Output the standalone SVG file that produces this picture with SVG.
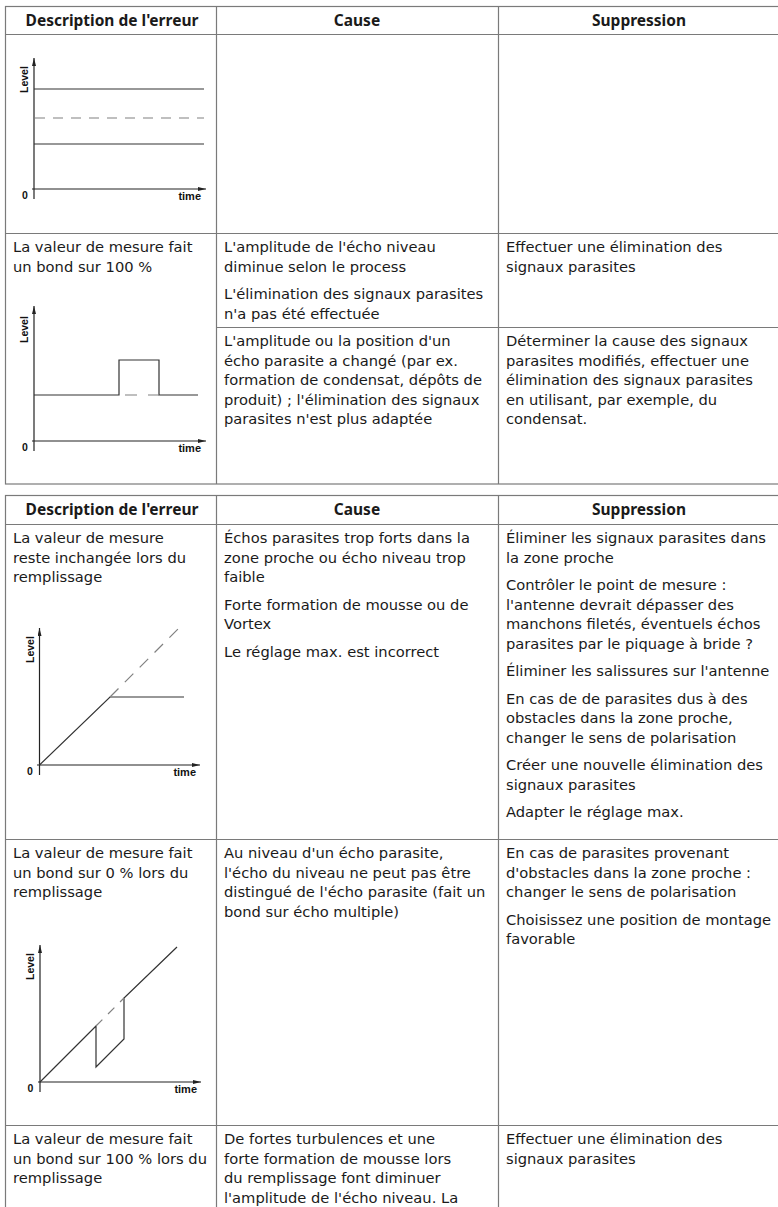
<svg xmlns="http://www.w3.org/2000/svg" width="778" height="1207" viewBox="0 0 778 1207">
<defs>
<style>
.bg{fill:#ffffff}
.grid{stroke:#7a7a7a;stroke-width:1.2;fill:none}
.t{font-family:"DejaVu Sans","Noto Sans",sans-serif;font-size:14.7px;fill:#1a1a1a}
.h{font-family:"Noto Sans","Open Sans","DejaVu Sans",sans-serif;font-size:15.5px;font-weight:bold;fill:#1a1a1a;text-anchor:middle}
.ax{stroke:#222;stroke-width:1.2;fill:none}
.sl{stroke:#333;stroke-width:1.2;fill:none}
.ds{stroke:#808080;stroke-width:1.2;fill:none}
.lab{font-family:"Liberation Sans",Arial,sans-serif;font-weight:bold;font-size:10.5px;fill:#111}
.tm{font-size:11px;text-anchor:end}
</style>
<marker id="ah" viewBox="0 0 8 4" refX="8" refY="2" markerWidth="8" markerHeight="4" orient="auto" markerUnits="userSpaceOnUse">
<path d="M0,0 L8,2 L0,4 z" fill="#222"/>
</marker>
</defs>
<rect class="bg" x="0" y="0" width="778" height="1207"/>

<!-- ===== Table 1 ===== -->
<g id="table1-grid" class="grid">
<rect x="5.5" y="6.5" width="790" height="477.5"/>
<line x1="5.5" y1="34.5" x2="778" y2="34.5"/>
<line x1="5.5" y1="233.5" x2="778" y2="233.5"/>
<line x1="216.5" y1="327.5" x2="778" y2="327.5"/>
<line x1="216.5" y1="6.5" x2="216.5" y2="484"/>
<line x1="498.5" y1="6.5" x2="498.5" y2="484"/>
</g>
<g id="table1-header">
<text class="h" x="112" y="26">Description de l'erreur</text>
<text class="h" x="357" y="26">Cause</text>
<text class="h" x="639" y="26">Suppression</text>
</g>

<g id="chart1">
<line class="ax" x1="34" y1="199" x2="34" y2="58" marker-end="url(#ah)"/>
<line class="ax" x1="32" y1="189" x2="206" y2="189" marker-end="url(#ah)"/>
<line class="sl" x1="34" y1="89" x2="204" y2="89"/>
<line class="ds" x1="35" y1="118" x2="204" y2="118" stroke-dasharray="10 8"/>
<line class="sl" x1="34" y1="144" x2="204" y2="144"/>
<text class="lab" transform="translate(28,93) rotate(-90)">Level</text>
<text class="lab" x="22" y="199">0</text>
<text class="lab tm" x="201" y="200">time</text>
</g>

<g id="t1-row2-desc">
<text class="t" x="13" y="252"><tspan x="13">La valeur de mesure fait</tspan><tspan x="13" dy="19.5">un bond sur 100 %</tspan></text>
</g>
<g id="chart2">
<line class="ax" x1="34" y1="451" x2="34" y2="306" marker-end="url(#ah)"/>
<line class="ax" x1="32" y1="441" x2="206" y2="441" marker-end="url(#ah)"/>
<polyline class="sl" points="34,395 119,395 119,360 159,360 159,395 198,395"/>
<line class="ds" x1="125" y1="395" x2="159" y2="395" stroke-dasharray="12 11"/>
<text class="lab" transform="translate(28,343) rotate(-90)">Level</text>
<text class="lab" x="22" y="451">0</text>
<text class="lab tm" x="201" y="452">time</text>
</g>
<g id="t1-row2-cause">
<text class="t" x="224" y="252"><tspan x="224">L'amplitude de l'écho niveau</tspan><tspan x="224" dy="19.5">diminue selon le process</tspan></text>
<text class="t" x="224" y="299"><tspan x="224">L'élimination des signaux parasites</tspan><tspan x="224" dy="19.5">n'a pas été effectuée</tspan></text>
</g>
<g id="t1-row2-supp">
<text class="t" x="506" y="252"><tspan x="506">Effectuer une élimination des</tspan><tspan x="506" dy="19.5">signaux parasites</tspan></text>
</g>
<g id="t1-row3-cause">
<text class="t" x="224" y="346"><tspan x="224">L'amplitude ou la position d'un</tspan><tspan x="224" dy="19.5">écho parasite a changé (par ex.</tspan><tspan x="224" dy="19.5">formation de condensat, dépôts de</tspan><tspan x="224" dy="19.5">produit) ; l'élimination des signaux</tspan><tspan x="224" dy="19.5">parasites n'est plus adaptée</tspan></text>
</g>
<g id="t1-row3-supp">
<text class="t" x="506" y="346"><tspan x="506">Déterminer la cause des signaux</tspan><tspan x="506" dy="19.5">parasites modifiés, effectuer une</tspan><tspan x="506" dy="19.5">élimination des signaux parasites</tspan><tspan x="506" dy="19.5">en utilisant, par exemple, du</tspan><tspan x="506" dy="19.5">condensat.</tspan></text>
</g>

<!-- ===== Table 2 ===== -->
<g id="table2-grid" class="grid">
<rect x="5.5" y="495.5" width="790" height="760"/>
<line x1="5.5" y1="524.5" x2="778" y2="524.5"/>
<line x1="5.5" y1="839.5" x2="778" y2="839.5"/>
<line x1="5.5" y1="1125.5" x2="778" y2="1125.5"/>
<line x1="216.5" y1="495.5" x2="216.5" y2="1207"/>
<line x1="498.5" y1="495.5" x2="498.5" y2="1207"/>
</g>
<g id="table2-header">
<text class="h" x="112" y="515">Description de l'erreur</text>
<text class="h" x="357" y="515">Cause</text>
<text class="h" x="639" y="515">Suppression</text>
</g>

<g id="t2-row1-desc">
<text class="t" x="13" y="543"><tspan x="13">La valeur de mesure</tspan><tspan x="13" dy="19.5">reste inchangée lors du</tspan><tspan x="13" dy="19.5">remplissage</tspan></text>
</g>
<g id="chart3">
<line class="ax" x1="39.5" y1="775" x2="39.5" y2="628" marker-end="url(#ah)"/>
<line class="ax" x1="37" y1="765" x2="200" y2="765" marker-end="url(#ah)"/>
<polyline class="sl" points="39.5,765 110,697 184,697"/>
<line class="ds" x1="110" y1="697" x2="180" y2="627" stroke-dasharray="12 9"/>
<text class="lab" transform="translate(33.5,663) rotate(-90)">Level</text>
<text class="lab" x="27" y="775">0</text>
<text class="lab tm" x="196" y="776">time</text>
</g>
<g id="t2-row1-cause">
<text class="t" x="224" y="543"><tspan x="224">Échos parasites trop forts dans la</tspan><tspan x="224" dy="19.5">zone proche ou écho niveau trop</tspan><tspan x="224" dy="19.5">faible</tspan></text>
<text class="t" x="224" y="609.5"><tspan x="224">Forte formation de mousse ou de</tspan><tspan x="224" dy="19.5">Vortex</tspan></text>
<text class="t" x="224" y="656.5">Le réglage max. est incorrect</text>
</g>
<g id="t2-row1-supp">
<text class="t" x="506" y="543"><tspan x="506">Éliminer les signaux parasites dans</tspan><tspan x="506" dy="19.5">la zone proche</tspan></text>
<text class="t" x="506" y="590"><tspan x="506">Contrôler le point de mesure :</tspan><tspan x="506" dy="19.5">l'antenne devrait dépasser des</tspan><tspan x="506" dy="19.5">manchons filetés, éventuels échos</tspan><tspan x="506" dy="19.5">parasites par le piquage à bride ?</tspan></text>
<text class="t" x="506" y="676">Éliminer les salissures sur l'antenne</text>
<text class="t" x="506" y="703.5"><tspan x="506">En cas de de parasites dus à des</tspan><tspan x="506" dy="19.5">obstacles dans la zone proche,</tspan><tspan x="506" dy="19.5">changer le sens de polarisation</tspan></text>
<text class="t" x="506" y="770"><tspan x="506">Créer une nouvelle élimination des</tspan><tspan x="506" dy="19.5">signaux parasites</tspan></text>
<text class="t" x="506" y="817">Adapter le réglage max.</text>
</g>

<g id="t2-row2-desc">
<text class="t" x="13" y="858"><tspan x="13">La valeur de mesure fait</tspan><tspan x="13" dy="19.5">un bond sur 0 % lors du</tspan><tspan x="13" dy="19.5">remplissage</tspan></text>
</g>
<g id="chart4">
<line class="ax" x1="40" y1="1092" x2="40" y2="945" marker-end="url(#ah)"/>
<line class="ax" x1="38" y1="1082" x2="201" y2="1082" marker-end="url(#ah)"/>
<polyline class="sl" points="40,1082 96,1026 96,1067 124,1039 124,998 177,947"/>
<line class="ds" x1="96" y1="1026" x2="124" y2="998" stroke-dasharray="9 8"/>
<text class="lab" transform="translate(34,980) rotate(-90)">Level</text>
<text class="lab" x="27.5" y="1092">0</text>
<text class="lab tm" x="197" y="1093">time</text>
</g>
<g id="t2-row2-cause">
<text class="t" x="224" y="858"><tspan x="224">Au niveau d'un écho parasite,</tspan><tspan x="224" dy="19.5">l'écho du niveau ne peut pas être</tspan><tspan x="224" dy="19.5">distingué de l'écho parasite (fait un</tspan><tspan x="224" dy="19.5">bond sur écho multiple)</tspan></text>
</g>
<g id="t2-row2-supp">
<text class="t" x="506" y="858"><tspan x="506">En cas de parasites provenant</tspan><tspan x="506" dy="19.5">d'obstacles dans la zone proche :</tspan><tspan x="506" dy="19.5">changer le sens de polarisation</tspan></text>
<text class="t" x="506" y="924.5"><tspan x="506">Choisissez une position de montage</tspan><tspan x="506" dy="19.5">favorable</tspan></text>
</g>

<g id="t2-row3-desc">
<text class="t" x="13" y="1144"><tspan x="13">La valeur de mesure fait</tspan><tspan x="13" dy="19.5">un bond sur 100 % lors du</tspan><tspan x="13" dy="19.5">remplissage</tspan></text>
</g>
<g id="t2-row3-cause">
<text class="t" x="224" y="1144"><tspan x="224">De fortes turbulences et une</tspan><tspan x="224" dy="19.5">forte formation de mousse lors</tspan><tspan x="224" dy="19.5">du remplissage font diminuer</tspan><tspan x="224" dy="19.5">l'amplitude de l'écho niveau. La</tspan></text>
</g>
<g id="t2-row3-supp">
<text class="t" x="506" y="1144"><tspan x="506">Effectuer une élimination des</tspan><tspan x="506" dy="19.5">signaux parasites</tspan></text>
</g>
</svg>
